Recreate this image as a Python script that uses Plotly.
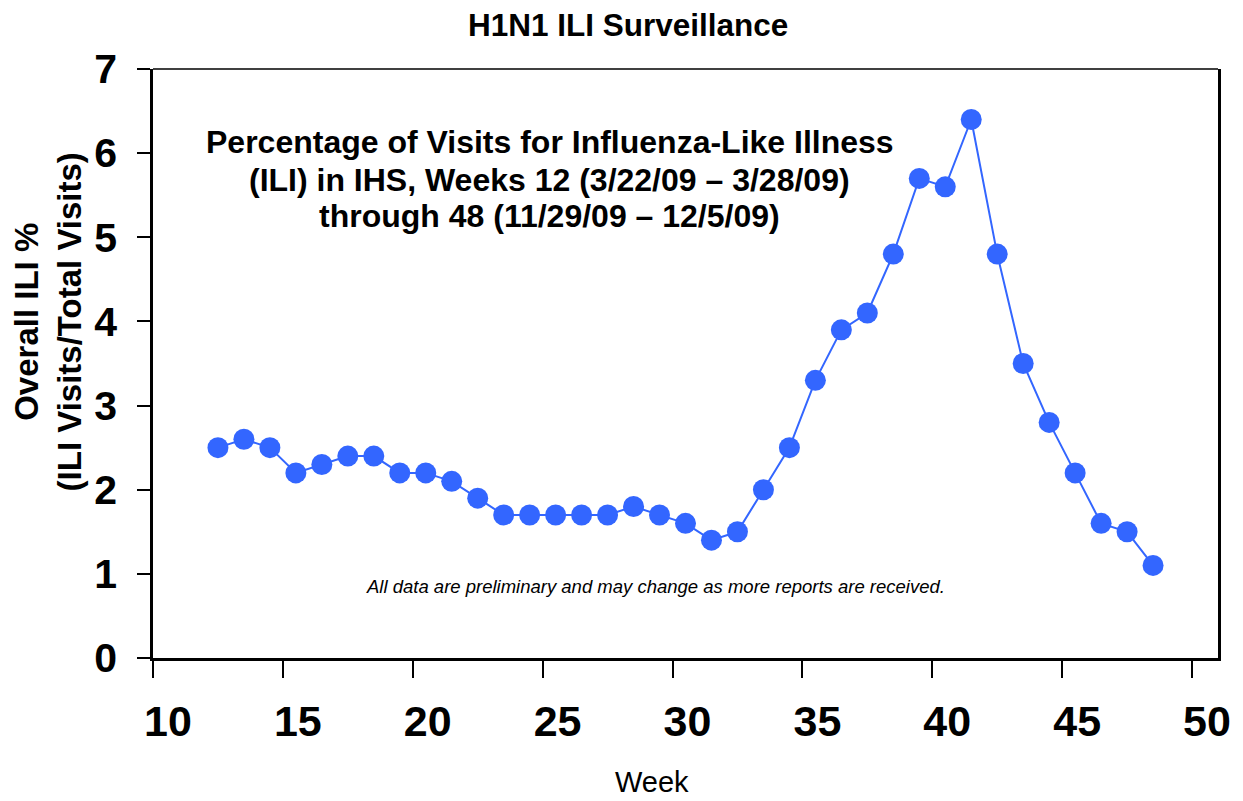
import plotly.graph_objects as go

weeks = list(range(12, 49))
ili_pct = [2.5, 2.6, 2.5, 2.2, 2.3, 2.4, 2.4, 2.2, 2.2, 2.1, 1.9, 1.7, 1.7, 1.7,
           1.7, 1.7, 1.8, 1.7, 1.6, 1.4, 1.5, 2.0, 2.5, 3.3, 3.9, 4.1, 4.8, 5.7,
           5.6, 6.4, 4.8, 3.5, 2.8, 2.2, 1.6, 1.5, 1.1]
x_ticks = [10, 15, 20, 25, 30, 35, 40, 45, 50]
y_ticks = [0, 1, 2, 3, 4, 5, 6, 7]
subtitle_lines = [
    "Percentage of Visits for Influenza-Like Illness",
    "(ILI) in IHS, Weeks 12 (3/22/09 – 3/28/09)",
    "through 48 (11/29/09 – 12/5/09)",
]

# points plotted at mid-week
x_pos = [w + 0.5 for w in weeks]

BLUE = "#3366FF"
FONT = "Arial, Liberation Sans, Helvetica, sans-serif"

# plot area in page pixels (page has an 8px body margin)
PL, PR, PT, PB = 153, 1222, 69, 658
OFF = 8
W, H = 1243 - OFF, 801 - OFF


def px(x):
    return (x - PL) / (PR - PL)


def py(y):
    return (PB - y) / (PB - PT)


fig = go.Figure()
fig.add_trace(go.Scatter(
    x=x_pos, y=ili_pct, mode="lines+markers",
    line=dict(color=BLUE, width=2),
    marker=dict(color=BLUE, size=21),
    showlegend=False, hoverinfo="x+y",
))

fig.update_layout(
    width=W, height=H,
    margin=dict(l=PL - OFF, r=W - (PR - OFF), t=PT - OFF, b=H - (PB - OFF)),
    paper_bgcolor="white", plot_bgcolor="white",
    font=dict(family=FONT, color="black"),
)
fig.update_xaxes(
    range=[10, 51], tickvals=x_ticks, ticktext=[f"<b>{t}</b>" for t in x_ticks],
    showgrid=False, zeroline=False,
    showline=True, linecolor="black", linewidth=2.7, mirror=False,
    ticks="outside", ticklen=17, tickwidth=2.2, tickcolor="black",
    tickfont=dict(size=43, color="black"),
    ticklabelshift=15, ticklabelstandoff=7,
)
fig.update_yaxes(
    range=[0, 7], tickvals=y_ticks, ticktext=[f"<b>{t}</b>" for t in y_ticks],
    showgrid=False, zeroline=False,
    showline=True, linecolor="black", linewidth=2.7, mirror=True,
    ticks="outside", ticklen=13, tickwidth=2.2, tickcolor="black",
    tickfont=dict(size=41, color="black"),
    ticklabelstandoff=12,
)
# top frame line (thinner)
fig.add_shape(type="line", xref="paper", yref="paper", x0=0, x1=1, y0=1, y1=1,
              line=dict(color="black", width=1.5))

fig.add_annotation(
    text="<b>H1N1 ILI Surveillance</b>",
    xref="paper", yref="paper", x=px(630), y=py(25),
    xanchor="center", yanchor="middle", showarrow=False,
    font=dict(size=31.5, color="black"),
)
for line_text, ly in zip(subtitle_lines, [142, 180, 216]):
    fig.add_annotation(
        text=f"<b>{line_text}</b>",
        xref="paper", yref="paper", x=px(551), y=py(ly),
        xanchor="center", yanchor="middle", showarrow=False,
        font=dict(size=32, color="black"),
    )
fig.add_annotation(
    text="<i>All data are preliminary and may change as more reports are received.</i>",
    xref="paper", yref="paper", x=px(657), y=py(586),
    xanchor="center", yanchor="middle", showarrow=False,
    font=dict(size=18.5, color="black"),
)
fig.add_annotation(
    text="<b>Overall ILI %<br>(ILI Visits/Total Visits)</b>",
    xref="paper", yref="paper", x=px(48), y=py(322),
    xanchor="center", yanchor="middle", showarrow=False, textangle=-90,
    align="center", font=dict(size=33, color="black"),
)
fig.add_annotation(
    text="Week",
    xref="paper", yref="paper", x=px(654), y=py(782),
    xanchor="center", yanchor="middle", showarrow=False,
    font=dict(size=29, color="black"),
)

fig.write_html("out.html")
